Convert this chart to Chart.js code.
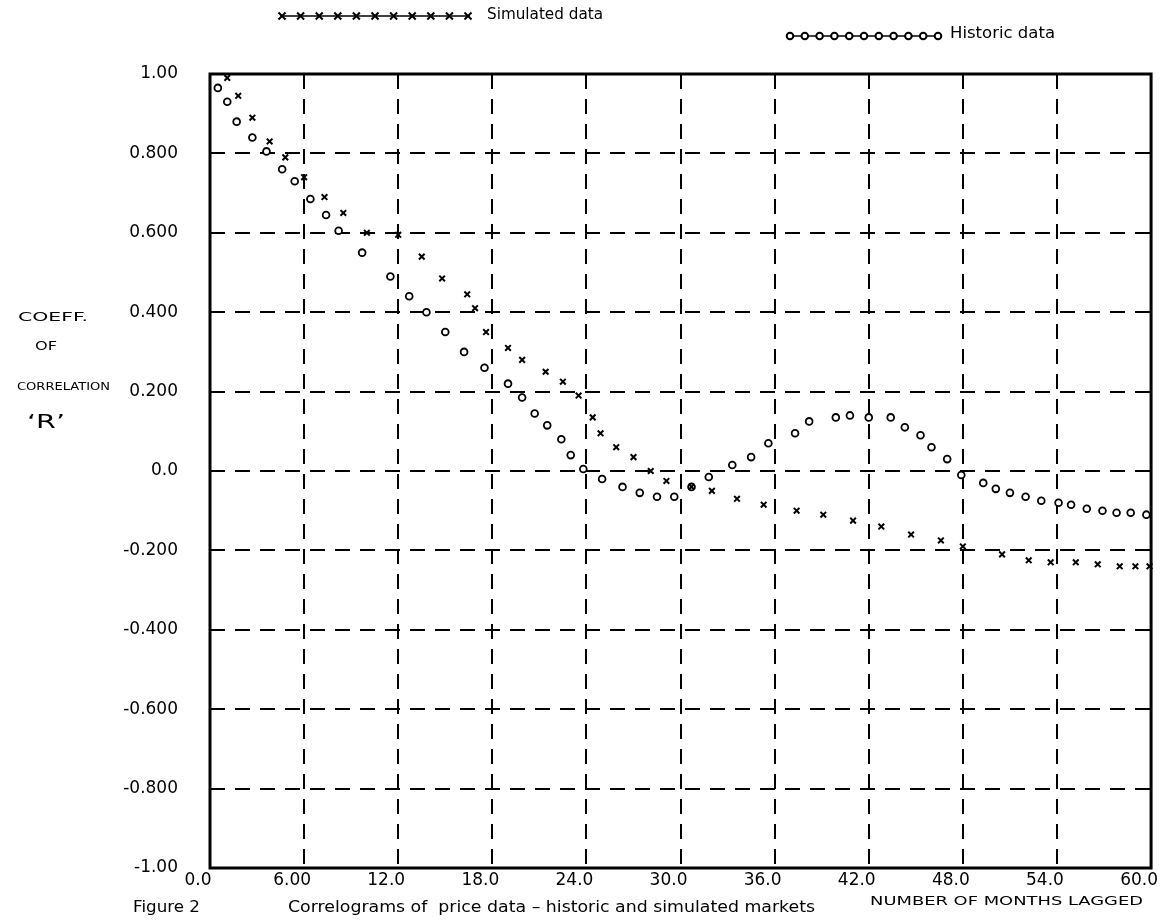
<!DOCTYPE html>
<html>
<head>
<meta charset="utf-8">
<script src="https://cdn.jsdelivr.net/npm/chart.js@4.4.1/dist/chart.umd.min.js"></script>
<style>
  html, body { margin: 0; padding: 0; background: #fff; }
  canvas { display: block; }
</style>
</head>
<body>
<canvas id="c" width="1172" height="920"></canvas>
<script>
// ---- Data ----
const xTickLabels = ["0.0", "6.00", "12.0", "18.0", "24.0", "30.0", "36.0", "42.0", "48.0", "54.0", "60.0"];
const yTickLabels = ["-1.00", "-0.800", "-0.600", "-0.400", "-0.200", "0.0", "0.200", "0.400", "0.600", "0.800", "1.00"];

const simLag = [1.1,1.8,2.7,3.8,4.8,6.0,7.3,8.5,10.0,12.0,13.5,14.8,16.4,16.9,17.6,19.0,19.9,21.4,22.5,23.5,24.4,24.9,25.9,27.0,28.1,29.1,30.7,32.0,33.6,35.3,37.4,39.1,41.0,42.8,44.7,46.6,48.0,50.5,52.2,53.6,55.2,56.6,58.0,59.0,59.9];
const simR   = [0.99,0.945,0.89,0.83,0.79,0.74,0.69,0.65,0.60,0.595,0.54,0.485,0.445,0.41,0.35,0.31,0.28,0.25,0.225,0.19,0.135,0.095,0.06,0.035,0.0,-0.025,-0.04,-0.05,-0.07,-0.085,-0.10,-0.11,-0.125,-0.14,-0.16,-0.175,-0.19,-0.21,-0.225,-0.23,-0.23,-0.235,-0.24,-0.24,-0.24];

const histLag = [0.5,1.1,1.7,2.7,3.6,4.6,5.4,6.4,7.4,8.2,9.7,11.5,12.7,13.8,15.0,16.2,17.5,19.0,19.9,20.7,21.5,22.4,23.0,23.8,25.0,26.3,27.4,28.5,29.6,30.7,31.8,33.3,34.5,35.6,37.3,38.2,39.9,40.8,42.0,43.4,44.3,45.3,46.0,47.0,47.9,49.3,50.1,51.0,52.0,53.0,54.1,54.9,55.9,56.9,57.8,58.7,59.7];
const histR   = [0.965,0.93,0.88,0.84,0.805,0.76,0.73,0.685,0.645,0.605,0.55,0.49,0.44,0.40,0.35,0.30,0.26,0.22,0.185,0.145,0.115,0.08,0.04,0.005,-0.02,-0.04,-0.055,-0.065,-0.065,-0.04,-0.015,0.015,0.035,0.07,0.095,0.125,0.135,0.14,0.135,0.135,0.11,0.09,0.06,0.03,-0.01,-0.03,-0.045,-0.055,-0.065,-0.075,-0.08,-0.085,-0.095,-0.10,-0.105,-0.105,-0.11];

const seriesNames = ["Simulated data", "Historic data"];
const figureLabel = "Figure 2";
const captionText = "Correlograms of  price data \u2013 historic and simulated markets";
const xTitleText = "NUMBER OF MONTHS LAGGED";
const yTitleLines = ["COEFF.", "OF", "CORRELATION", "\u2018R\u2019"];

// ---- helpers ----
const FONT = "'DejaVu Sans', 'Liberation Sans', sans-serif";
function fitText(ctx, text, x, y, w, size, weight) {
  ctx.save();
  ctx.font = (weight || "normal") + " " + size + "px " + FONT;
  ctx.textBaseline = "middle";
  ctx.textAlign = "left";
  ctx.fillStyle = "#000";
  const m = ctx.measureText(text).width;
  ctx.translate(x, y);
  ctx.scale(w / m, 1);
  ctx.fillText(text, 0, 0);
  ctx.restore();
}

const decorPlugin = {
  id: "decor",
  beforeDatasetsDraw(chart) {
    const { ctx, chartArea: a } = chart;
    ctx.save();
    ctx.strokeStyle = "#000";
    ctx.lineWidth = 3;
    ctx.strokeRect(a.left, a.top, a.right - a.left, a.bottom - a.top);
    ctx.restore();
  },
  afterDraw(chart) {
    const { ctx } = chart;
    // legend: simulated
    ctx.save();
    ctx.strokeStyle = "#000";
    ctx.lineWidth = 1.5;
    ctx.beginPath(); ctx.moveTo(280, 16); ctx.lineTo(470, 16); ctx.stroke();
    ctx.lineWidth = 2;
    for (let i = 0; i < 11; i++) {
      const cx = 282 + i * 18.6, cy = 16;
      ctx.beginPath();
      ctx.moveTo(cx - 3.5, cy - 3.5); ctx.lineTo(cx + 3.5, cy + 3.5);
      ctx.moveTo(cx + 3.5, cy - 3.5); ctx.lineTo(cx - 3.5, cy + 3.5);
      ctx.stroke();
    }
    // legend: historic
    ctx.lineWidth = 1.5;
    ctx.beginPath(); ctx.moveTo(788, 36); ctx.lineTo(940, 36); ctx.stroke();
    ctx.lineWidth = 2;
    ctx.fillStyle = "#fff";
    for (let i = 0; i < 11; i++) {
      const cx = 790 + i * 14.8, cy = 36;
      ctx.beginPath(); ctx.arc(cx, cy, 3.3, 0, Math.PI * 2); ctx.fill(); ctx.stroke();
    }
    ctx.restore();
    fitText(ctx, seriesNames[0], 487, 15, 116, 16);
    fitText(ctx, seriesNames[1], 950, 34, 105, 16);

    // y axis title (hand lettered)
    fitText(ctx, yTitleLines[0], 18, 318, 70, 12);
    fitText(ctx, yTitleLines[1], 35, 347, 22, 12);
    fitText(ctx, yTitleLines[2], 17, 387, 93, 11);
    fitText(ctx, yTitleLines[3], 27, 423, 38, 20);

    // bottom captions
    fitText(ctx, figureLabel, 133, 908, 67, 15);
    fitText(ctx, captionText, 288, 908, 527, 16);
    fitText(ctx, xTitleText, 870, 902, 273, 12);
  }
};

const gridColor = (ctx) => {
  const s = ctx.scale;
  const v = ctx.tick ? ctx.tick.value : null;
  if (v === null || v === s.min || v === s.max) return "rgba(0,0,0,0)";
  return "#000";
};

new Chart(document.getElementById("c"), {
  type: "scatter",
  data: {
    datasets: [
      {
        label: seriesNames[0],
        data: simLag.map((x, i) => ({ x: x, y: simR[i] })),
        pointStyle: "crossRot",
        pointRadius: 4,
        borderWidth: 2,
        borderColor: "#000",
        backgroundColor: "#000",
        showLine: false,
        clip: false
      },
      {
        label: seriesNames[1],
        data: histLag.map((x, i) => ({ x: x, y: histR[i] })),
        pointStyle: "circle",
        pointRadius: 3.4,
        borderWidth: 1.8,
        borderColor: "#000",
        backgroundColor: "#fff",
        showLine: false,
        clip: false
      }
    ]
  },
  options: {
    responsive: false,
    animation: false,
    devicePixelRatio: 1,
    layout: { padding: { top: 74, right: 17, left: 0, bottom: 0 } },
    plugins: { legend: { display: false }, tooltip: { enabled: false } },
    scales: {
      x: {
        type: "linear",
        min: 0, max: 60,
        afterFit: (s) => { s.height = 52; },
        afterBuildTicks: (s) => { s.ticks = xTickLabels.map((_, i) => ({ value: i * 6 })); },
        ticks: {
          autoSkip: false,
          maxRotation: 0,
          padding: 2,
          labelOffset: -12,
          color: "#000",
          font: { family: FONT, size: 17 },
          callback: (v, i) => xTickLabels[i]
        },
        grid: { color: gridColor, lineWidth: 2, drawTicks: false },
        border: { display: false, dash: [15, 10] }
      },
      y: {
        type: "linear",
        min: -1, max: 1,
        afterFit: (s) => { s.width = 210; },
        afterBuildTicks: (s) => { s.ticks = yTickLabels.map((_, i) => ({ value: -1 + i * 0.2 })); },
        ticks: {
          autoSkip: false,
          padding: 32,
          color: "#000",
          font: { family: FONT, size: 17 },
          callback: (v, i) => yTickLabels[i]
        },
        grid: { color: gridColor, lineWidth: 2, drawTicks: false },
        border: { display: false, dash: [15, 10] }
      }
    }
  },
  plugins: [decorPlugin]
});
</script>
</body>
</html>
